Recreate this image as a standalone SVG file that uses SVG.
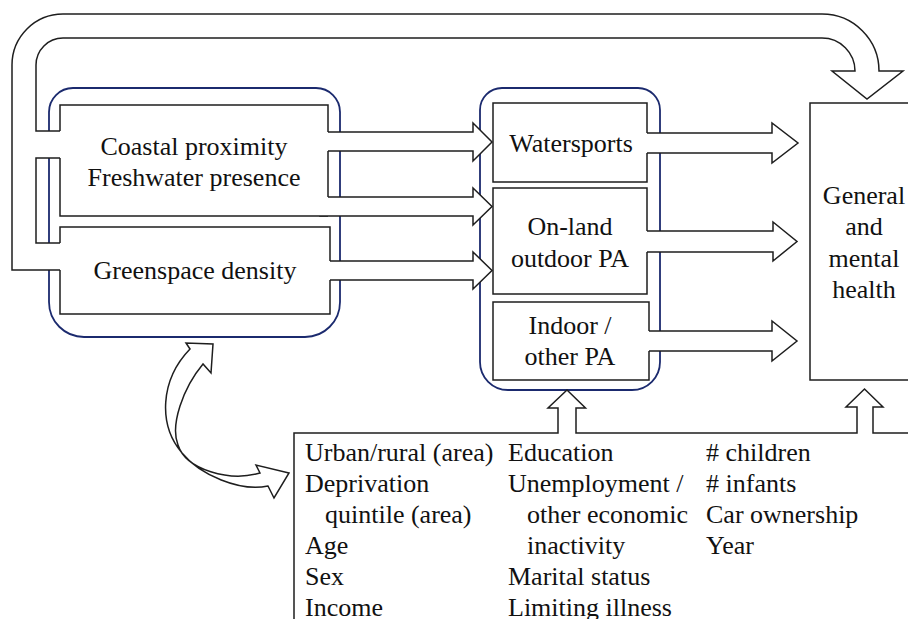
<svg xmlns="http://www.w3.org/2000/svg" width="908" height="619" viewBox="0 0 908 619">
<style>
.ln{fill:none;stroke:#1e1e1e;stroke-width:1.5;stroke-linejoin:miter}
.ar{fill:#fff;stroke:#1e1e1e;stroke-width:1.5;stroke-linejoin:miter}
.wf{fill:#fff;stroke:none}
.grp{fill:none;stroke:#1b2a6e;stroke-width:1.8}
.t{font-family:"Liberation Serif","Times New Roman",serif;font-size:26px;fill:#111}
.c{text-anchor:middle}
</style>
<rect width="908" height="619" fill="#fff"/>

<!-- group outlines -->
<g id="group-environment">
<path class="grp" d="M73,88 H316 A24,24 0 0 1 340,112 V302 A35,35 0 0 1 305,337 H84 A35,35 0 0 1 49,302 V112 A24,24 0 0 1 73,88 Z"/>
</g>
<g id="group-activity">
<path class="grp" d="M502,88 H638 A22,22 0 0 1 660,110 V362 A28,28 0 0 1 632,390 H508 A28,28 0 0 1 480,362 V110 A22,22 0 0 1 502,88 Z"/>
</g>

<!-- connectors -->
<g id="connectors">
<path class="ar" d="M70,131 H36 V65 A27,27 0 0 1 63,38 H822 A33,33 0 0 1 855,71 H832 L867,99 L903,71 H879 A57,57 0 0 0 822,14 H63 A51,51 0 0 0 12,65 V270 H70 V243 H36 V158 H70 Z"/>
<path class="ar" d="M320,132 H473 V123 L492,142 L473,161 V151 H320 Z"/>
<path class="ar" d="M320,197 H473 V188 L492,206.5 L473,225 V216 H320 Z"/>
<path class="ar" d="M320,261 H473 V252 L492,270.5 L473,289 V280 H320 Z"/>
<path class="ar" d="M640,133 H772 V123 L798,143 L772,163 V153 H640 Z"/>
<path class="ar" d="M640,231 H773 V222 L797,241.5 L773,261 V252 H640 Z"/>
<path class="ar" d="M640,331 H772 V321 L797,341 L772,361 V351 H640 Z"/>
<path class="ar" d="M190,349 L186,343 L213,344 L211,373 L203,364 C183,388 170,425 178,445 C186,470 230,482 260,473 L256,465 L289,473 L274,498 L268,486 C240,492 200,475 182,453 C158,425 160,380 190,349 Z"/>
</g>

<!-- nodes -->
<g id="node-coastal">
<rect class="wf" x="60" y="105" width="268" height="111"/>
<path class="ln" d="M60,131 V105 H328 V132 M328,151 V197 M328,216 H60 V158"/>
<text class="t c" x="194" y="155">Coastal proximity</text>
<text class="t c" x="194" y="186">Freshwater presence</text>
</g>
<g id="node-greenspace">
<rect class="wf" x="60" y="227" width="270" height="87"/>
<path class="ln" d="M330,261 V227 H60 V243 M60,270 V314 H330 V280"/>
<text class="t c" x="195" y="279">Greenspace density</text>
</g>
<g id="node-watersports">
<rect class="wf" x="493" y="103" width="154" height="79"/>
<path class="ln" d="M647,133 V103 H493 V182 H647 V153"/>
<text class="t c" x="571" y="152">Watersports</text>
</g>
<g id="node-onland">
<rect class="wf" x="493" y="188" width="154" height="106"/>
<path class="ln" d="M647,231 V188 H493 V294 H647 V252"/>
<text class="t c" x="570" y="235">On-land</text>
<text class="t c" x="570" y="267">outdoor PA</text>
</g>
<g id="node-indoor">
<rect class="wf" x="493" y="302" width="156" height="78"/>
<path class="ln" d="M649,331 V302 H493 V380 H649 V351"/>
<text class="t c" x="570" y="334">Indoor /</text>
<text class="t c" x="570" y="365">other PA</text>
</g>
<g id="node-health">
<rect class="ar" x="810" y="103" width="120" height="277"/>
<text class="t c" x="864" y="204">General</text>
<text class="t c" x="864" y="235">and</text>
<text class="t c" x="864" y="267">mental</text>
<text class="t c" x="864" y="298">health</text>
</g>
<g id="node-covariates">
<path class="ln" d="M294,619 V433 H558 V408 H548 L567,390 L585.5,408 H576 V433 H857 V407 H846 L864.5,389 L883,407 H873 V433 H910"/>
<text class="t" x="305" y="461">Urban/rural (area)</text>
<text class="t" x="305" y="492">Deprivation</text>
<text class="t" x="325" y="523">quintile (area)</text>
<text class="t" x="305" y="554">Age</text>
<text class="t" x="305" y="585">Sex</text>
<text class="t" x="305" y="616">Income</text>
<text class="t" x="508" y="461">Education</text>
<text class="t" x="508" y="492">Unemployment /</text>
<text class="t" x="527" y="523">other economic</text>
<text class="t" x="527" y="554">inactivity</text>
<text class="t" x="508" y="585">Marital status</text>
<text class="t" x="508" y="616">Limiting illness</text>
<text class="t" x="706" y="461"># children</text>
<text class="t" x="706" y="492"># infants</text>
<text class="t" x="706" y="523">Car ownership</text>
<text class="t" x="706" y="554">Year</text>
</g>
</svg>
